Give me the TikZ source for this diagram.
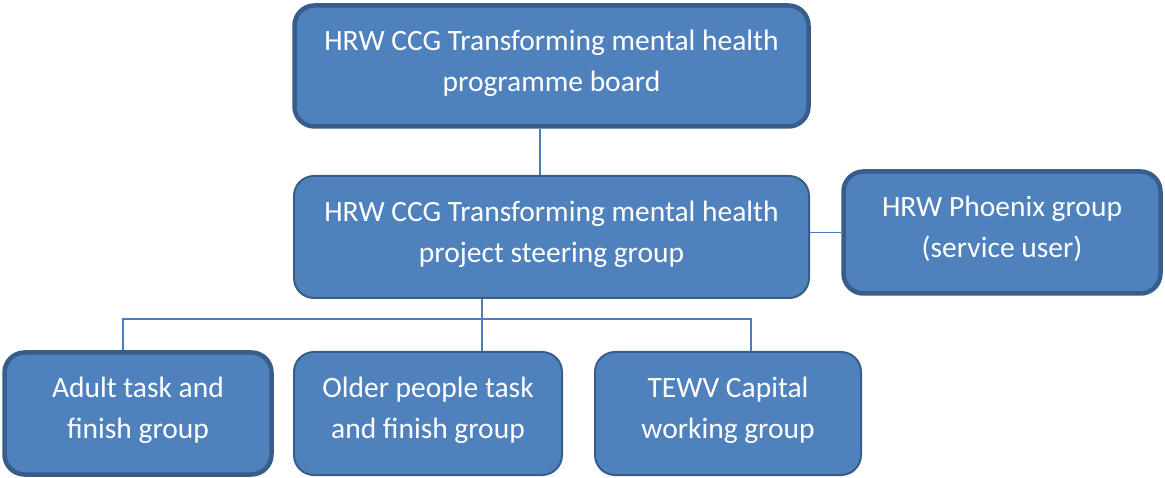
\documentclass[tikz,border=0pt]{standalone}
\usepackage{fontspec}
\setmainfont{Carlito}
\begin{document}
\definecolor{boxfill}{HTML}{4F81BD}
\definecolor{boxedge}{HTML}{385D8A}
\definecolor{linkcol}{HTML}{4A7EBB}
\begin{tikzpicture}[x=1pt,y=-1pt,
  group/.style={draw=boxedge, fill=boxfill, rounded corners=20pt, text=white,
    font=\fontsize{29.5}{41}\selectfont, align=center, inner sep=0pt,
    text depth=10.5pt},
  heavy/.style={line width=4.5pt},
  light/.style={line width=2pt},
  link/.style={draw=linkcol, line width=1.6pt}]
\useasboundingbox (0,0) rectangle (1165,478);
% board and steering group
\node[group, heavy, minimum width=514pt, minimum height=121pt] (board) at (551.5,66) {HRW CCG Transforming mental health\\programme board};
\node[group, light, minimum width=515pt, minimum height=122pt] (steer) at (551.5,237) {HRW CCG Transforming mental health\\project steering group};
\node[group, heavy, minimum width=317pt, minimum height=122pt] (phoenix) at (1002,232.5) {HRW Phoenix group\\(service user)};
% task and finish groups
\node[group, heavy, minimum width=267pt, minimum height=122pt] (adult) at (138,413.5) {Adult task and\\finish group};
\node[group, light, minimum width=268pt, minimum height=123pt] (older) at (428,413.5) {Older people task\\and finish group};
\node[group, light, minimum width=266pt, minimum height=123pt] (tewv) at (728,413.5) {TEWV Capital\\working group};
% connectors
\coordinate (bus) at (482,319);
\draw[link] (board.south -| 540,0) -- (steer.north -| 540,0);
\draw[link] (steer.east |- phoenix.west) -- (phoenix.west);
\draw[link] (steer.south -| bus) -- (older.north -| bus);
\draw[link] (adult.north -| 123,0) |- (bus) -| (tewv.north -| 751,0);
\end{tikzpicture}
\end{document}
